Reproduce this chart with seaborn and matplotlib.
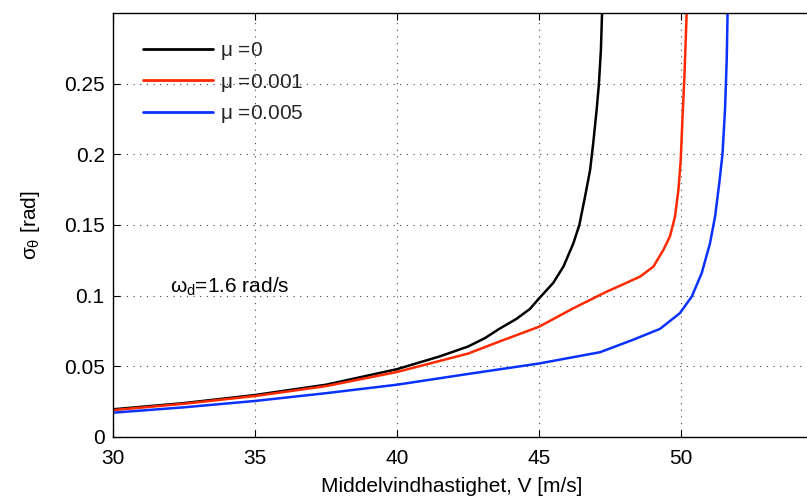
import numpy as np
import pandas as pd
import matplotlib
matplotlib.use("Agg")
import matplotlib.pyplot as plt
import seaborn as sns

# data
x_mu0 = [30, 32.5, 35, 37.5, 40, 41.5, 42.5, 43.1, 43.6, 44.2, 44.68, 45.0, 45.5, 45.86, 46.21,
         46.42, 46.62, 46.80, 46.91, 47.03, 47.11, 47.18, 47.22]
y_mu0 = [0.0196, 0.024, 0.0297, 0.037, 0.048, 0.057, 0.064, 0.070, 0.0765, 0.0835, 0.0906, 0.098, 0.109, 0.1206, 0.137,
         0.150, 0.170, 0.189, 0.208, 0.2316, 0.250, 0.274, 0.300]

x_mu1 = [30, 32.5, 35, 37.5, 40, 42.5, 43.6, 45, 46.2, 47.4, 47.85, 48.56, 49.03, 49.38, 49.61,
         49.79, 49.91, 49.99, 50.05, 50.12, 50.20]
y_mu1 = [0.019, 0.0235, 0.029, 0.036, 0.046, 0.059, 0.0675, 0.078, 0.091, 0.103, 0.107, 0.1135, 0.1206, 0.1324, 0.1419,
         0.156, 0.175, 0.196, 0.2245, 0.255, 0.300]

x_mu5 = [30, 32.5, 35, 37.5, 40, 42.5, 45, 47.15, 48.3, 49.26, 49.96, 50.38, 50.73, 51.02, 51.20,
         51.35, 51.46, 51.55, 51.61, 51.64]
y_mu5 = [0.0172, 0.021, 0.0255, 0.031, 0.037, 0.0446, 0.052, 0.060, 0.0687, 0.0765, 0.0876, 0.0994, 0.116, 0.137, 0.156,
         0.180, 0.200, 0.2316, 0.267, 0.300]

labels = [r"$\mathregular{\mu}$ =0", r"$\mathregular{\mu}$ =0.001", r"$\mathregular{\mu}$ =0.005"]
colors = ["#000000", "#ff2a00", "#0a32ff"]
x_ticks = [30, 35, 40, 45, 50]
y_ticks = [0, 0.05, 0.1, 0.15, 0.2, 0.25]
y_ticklabels = ["0", "0.05", "0.1", "0.15", "0.2", "0.25"]

frames = []
for xs, ys, lab in zip([x_mu0, x_mu1, x_mu5], [y_mu0, y_mu1, y_mu5], labels):
    frames.append(pd.DataFrame({"V": xs, "sigma": ys, "mu": lab}))
df = pd.concat(frames, ignore_index=True)

sns.set_theme(style="white")
plt.rcParams["font.family"] = ["Liberation Sans", "DejaVu Sans"]
plt.rcParams["mathtext.fontset"] = "custom"
plt.rcParams["mathtext.rm"] = "Liberation Sans"
plt.rcParams["mathtext.it"] = "Liberation Sans"
plt.rcParams["lines.solid_capstyle"] = "round"
plt.rcParams["lines.solid_joinstyle"] = "round"

FS = 15

fig = plt.figure(figsize=(8.07, 4.99), dpi=100)
ax = fig.add_axes([113 / 807, 62 / 499, 710 / 807, 424 / 499])

sns.lineplot(data=df, x="V", y="sigma", hue="mu", palette=colors, hue_order=labels,
             linewidth=1.8, sort=False, estimator=None, ax=ax)

ax.set_xlim(30, 55)
ax.set_ylim(0, 0.3)
ax.set_xticks(x_ticks)
ax.set_xticklabels([str(t) for t in x_ticks])
ax.set_yticks(y_ticks)
ax.set_yticklabels(y_ticklabels)
ax.tick_params(direction="in", length=5, width=0.8, labelsize=FS, colors="black",
               top=True, bottom=True, left=True, right=False, pad=6)
ax.tick_params(axis="x", pad=9)
for s in ax.spines.values():
    s.set_color("black")
    s.set_linewidth(1.0)

ax.grid(True, color="#444444", linestyle=(0, (1, 5)), linewidth=0.8)

ax.set_xlabel("Middelvindhastighet, V [m/s]", fontsize=FS, color="black")
ax.xaxis.set_label_coords((452 - 113) / 710, -0.095)
ax.set_ylabel(r"$\sigma_\theta$ [rad]", fontsize=FS, color="black")
ax.yaxis.set_label_coords(-0.1, 0.5)

ax.text(32.0, 0.106, r"$\omega_d$=1.6 rad/s", fontsize=FS, va="center", ha="left", color="black")

leg = ax.legend(loc="upper left", frameon=False, fontsize=FS, handlelength=3.4,
                labelspacing=0.45, handletextpad=0.3, borderaxespad=0.0,
                bbox_to_anchor=(0.03, 0.955))
for h in leg.get_lines():
    h.set_linewidth(2)

fig.savefig("out.png", dpi=100)
